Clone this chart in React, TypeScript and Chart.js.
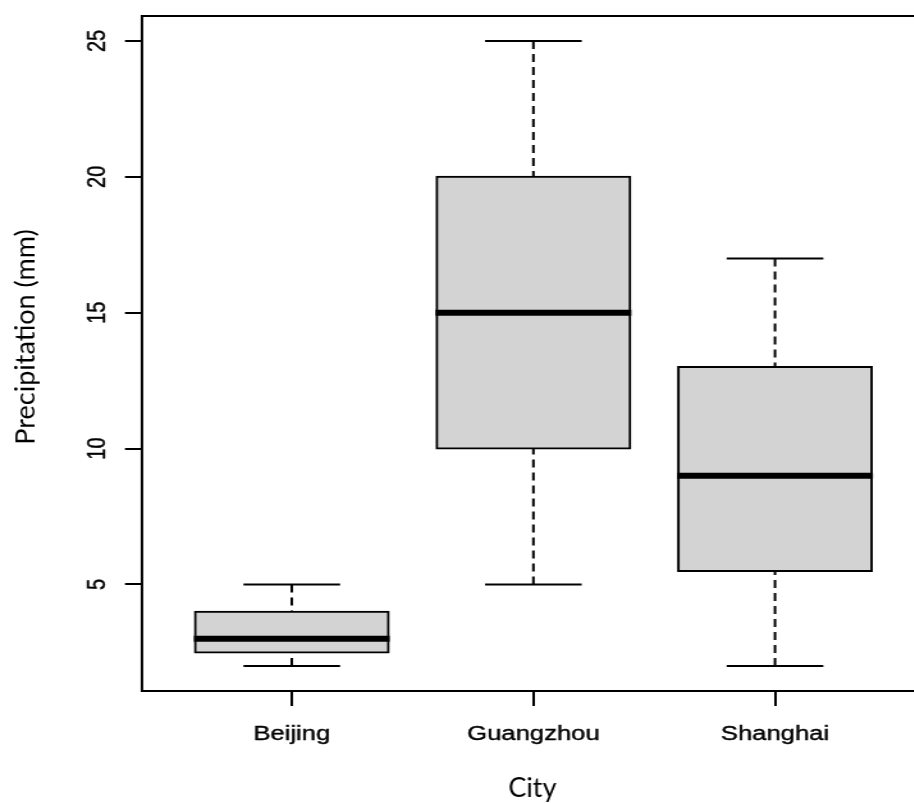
import React, { useEffect, useRef } from 'react';
import { Chart, registerables } from 'chart.js';

Chart.register(...registerables);

// ---- data ----
const categories = ['Beijing', 'Guangzhou', 'Shanghai'];
const whiskerLow = [2, 5, 2];
const q1 = [2.5, 10, 5.5];
const median = [3, 15, 9];
const q3 = [4, 20, 13];
const whiskerHigh = [5, 25, 17];
const yTicks = [5, 10, 15, 20, 25];
const xTitle = 'City';
const yTitle = 'Precipitation (mm)';

// ---- layout (the reference is stretched horizontally) ----
const S = 1.28;
const CW = 740;
const CH = 803;
const PLOT_LEFT = 142;
const PLOT_RIGHT = 925;
const PLOT_TOP = 16;
const PLOT_BOTTOM = 691;
const Y_TICK_LEN = 17 / S;
const Y_LABEL_CENTER = 97.5 / S;
const FONT_SIZE = 20;

const tickFont = { family: '"Liberation Sans", Arial, sans-serif', size: FONT_SIZE };

export default function App() {
  const ref = useRef<HTMLCanvasElement>(null);

  useEffect(() => {
    const canvas = ref.current;
    if (!canvas) return;

    const boxExtras = {
      id: 'boxExtras',
      afterDatasetsDraw(chart: any) {
        const ctx = chart.ctx as CanvasRenderingContext2D;
        const y = chart.scales.y;
        const meta = chart.getDatasetMeta(0);
        ctx.save();
        ctx.strokeStyle = '#000';
        ctx.lineCap = 'butt';
        categories.forEach((_, i) => {
          const bar = meta.data[i];
          const { x: cx, width } = bar.getProps(['x', 'width'], true);
          const half = width / 2;
          const cap = width / 4;
          // dashed whiskers
          ctx.lineWidth = 2;
          ctx.setLineDash([8, 5]);
          ctx.beginPath();
          ctx.moveTo(cx, y.getPixelForValue(whiskerHigh[i]));
          ctx.lineTo(cx, y.getPixelForValue(q3[i]));
          ctx.stroke();
          ctx.beginPath();
          ctx.moveTo(cx, y.getPixelForValue(whiskerLow[i]));
          ctx.lineTo(cx, y.getPixelForValue(q1[i]));
          ctx.stroke();
          ctx.setLineDash([]);
          // caps
          ctx.beginPath();
          ctx.moveTo(cx - cap, y.getPixelForValue(whiskerHigh[i]));
          ctx.lineTo(cx + cap, y.getPixelForValue(whiskerHigh[i]));
          ctx.moveTo(cx - cap, y.getPixelForValue(whiskerLow[i]));
          ctx.lineTo(cx + cap, y.getPixelForValue(whiskerLow[i]));
          ctx.stroke();
          // median
          ctx.lineWidth = 6;
          ctx.beginPath();
          ctx.moveTo(cx - half - 1, y.getPixelForValue(median[i]));
          ctx.lineTo(cx + half + 1, y.getPixelForValue(median[i]));
          ctx.stroke();
        });
        const a = chart.chartArea;
        ctx.lineWidth = 2;
        ctx.strokeRect(a.left, a.top, a.right - a.left, a.bottom - a.top);
        ctx.restore();
      },
      afterDraw(chart: any) {
        const ctx = chart.ctx as CanvasRenderingContext2D;
        ctx.save();
        ctx.scale(1 / S, 1);
        ctx.fillStyle = '#000';
        ctx.font = '27px Lato, "Open Sans", sans-serif';
        ctx.textAlign = 'center';
        ctx.textBaseline = 'alphabetic';
        ctx.fillText(xTitle, 532.5, 797);
        ctx.translate(34, 337);
        ctx.rotate(-Math.PI / 2);
        ctx.fillText(yTitle, 0, 0);
        ctx.restore();
      },
    };

    const chart = new Chart(canvas, {
      type: 'bar',
      data: {
        datasets: [
          {
            data: categories.map((_, i) => ({ x: i + 1, y: [q1[i], q3[i]] })) as any,
            backgroundColor: '#d3d3d3',
            borderColor: '#000',
            borderWidth: 2,
            borderSkipped: false,
            inflateAmount: 1,
            categoryPercentage: 1,
            barPercentage: 0.8,
          } as any,
        ],
      },
      options: {
        responsive: false,
        animation: false,
        events: [],
        layout: {
          padding: { left: 0, top: PLOT_TOP, right: CW - PLOT_RIGHT / S, bottom: 0 },
        },
        plugins: {
          legend: { display: false },
          tooltip: { enabled: false },
          title: { display: false },
        },
        scales: {
          x: {
            type: 'linear',
            min: 0.38,
            max: 3.62,
            offset: false,
            afterBuildTicks: (s: any) => {
              s.ticks = categories.map((_, i) => ({ value: i + 1 }));
            },
            afterFit: (s: any) => {
              s.height = CH - PLOT_BOTTOM;
              s.paddingLeft = 0;
              s.paddingRight = 0;
              s.paddingTop = 0;
              s.paddingBottom = 0;
            },
            ticks: {
              callback: (v: any) => categories[Math.round(Number(v)) - 1] ?? '',
              font: tickFont,
              color: '#000',
              textStrokeColor: '#000',
              textStrokeWidth: 0.4,
              padding: 16,
              autoSkip: false,
              maxRotation: 0,
              minRotation: 0,
            },
            grid: {
              offset: false,
              drawOnChartArea: false,
              drawTicks: true,
              tickLength: 15,
              color: '#000',
              lineWidth: 2,
            },
            border: { display: false },
          },
          y: {
            type: 'linear',
            min: 1.08,
            max: 25.92,
            beginAtZero: false,
            afterBuildTicks: (s: any) => {
              s.ticks = yTicks.map((v) => ({ value: v }));
            },
            afterFit: (s: any) => {
              s.width = PLOT_LEFT / S;
              s.paddingLeft = 0;
              s.paddingRight = 0;
              s.paddingTop = 0;
              s.paddingBottom = 0;
            },
            ticks: {
              font: tickFont,
              color: '#000',
              textStrokeColor: '#000',
              textStrokeWidth: 0.4,
              padding: PLOT_LEFT / S - Y_TICK_LEN - (1.112 * FONT_SIZE) / 2 - Y_LABEL_CENTER,
              autoSkip: false,
              minRotation: 90,
              maxRotation: 90,
              crossAlign: 'center',
            },
            grid: {
              drawOnChartArea: false,
              drawTicks: true,
              tickLength: Y_TICK_LEN,
              color: '#000',
              lineWidth: 2,
            },
            border: { display: false },
          },
        } as any,
      },
      plugins: [boxExtras],
    });

    return () => chart.destroy();
  }, []);

  return (
    <div
      style={{
        position: 'fixed',
        left: 0,
        top: 0,
        width: 914,
        height: 803,
        overflow: 'hidden',
        background: '#fff',
      }}
    >
      <canvas
        ref={ref}
        width={CW}
        height={CH}
        style={{ width: `${CW * S}px`, height: `${CH}px`, display: 'block' }}
      />
    </div>
  );
}
